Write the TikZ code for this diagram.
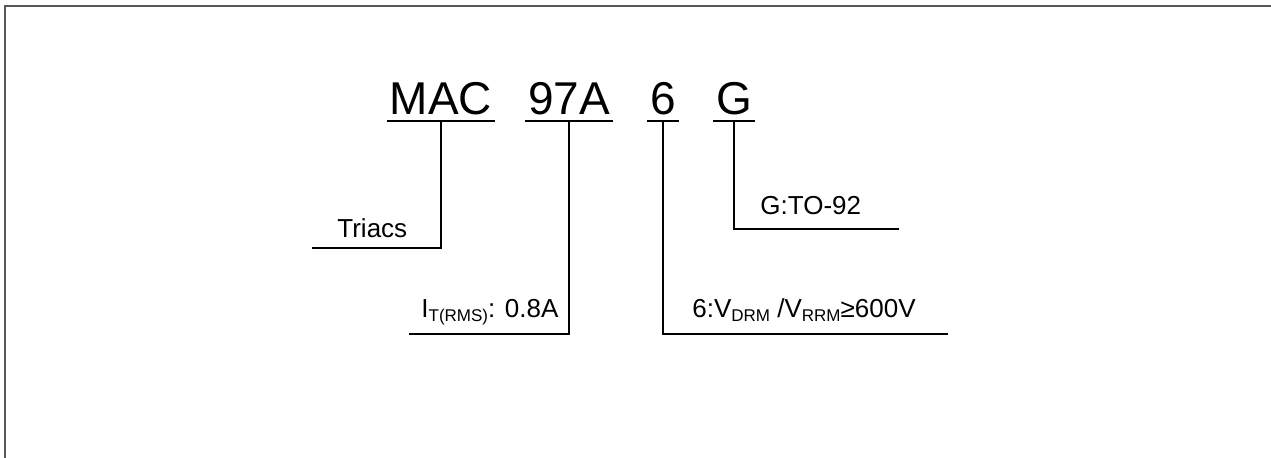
\documentclass[tikz,border=0pt]{standalone}
\usepackage{fontspec}
\setmainfont{Liberation Sans}
\newcommand{\lowsub}[1]{\raisebox{-2pt}{\fontsize{8.5}{8.5}\selectfont #1}}
\tikzset{every picture/.style={x=0.5pt, y=-0.5pt},
	part/.style={font=\fontsize{23}{27}\selectfont, anchor=base, inner xsep=1.2pt, inner ysep=2.8pt},
	lbl/.style={font=\fontsize{13}{15}\selectfont, anchor=base west, inner sep=0pt},
	uline/.style={line width=1pt},
	lead/.style={line width=0.6pt},
	frame/.style={draw=black!65, line width=1pt}}

\begin{document}
\begin{tikzpicture}
	\useasboundingbox (0,0) rectangle (1271,458);
	\draw[frame] (1271,6) -- (5,6) -- (5,458);
	% code parts
	\node[part] (mac) at (441,115) {MAC};
	\node[part] (cur) at (569,115) {97A};
	\node[part] (volt) at (663,115) {6};
	\node[part] (pkg) at (734,115) {G};
	\foreach \p in {mac,cur,volt,pkg}
		\draw[uline] (\p.south west) -- (\p.south east);
	% labels
	\node[lbl] (triacs) at (337,238) {Triacs};
	\node[lbl] (curtxt) at (421,318) {I\lowsub{T(RMS)}: 0.8A};
	\node[lbl] (volttxt) at (692,318) {6:V\lowsub{DRM} /V\lowsub{RRM}≥600V};
	\node[lbl] (pkgtxt) at (760,215) {G:TO-92};
	\coordinate (triacsend) at (312,248);
	\coordinate (curend) at (409,334);
	\coordinate (voltend) at (948,334);
	\coordinate (pkgend) at (899,229);
	% leaders
	\draw[lead] (mac.south) |- (triacsend);
	\draw[lead] (cur.south) |- (curend);
	\draw[lead] (volt.south) |- (voltend);
	\draw[lead] (pkg.south) |- (pkgend);
\end{tikzpicture}
\end{document}
